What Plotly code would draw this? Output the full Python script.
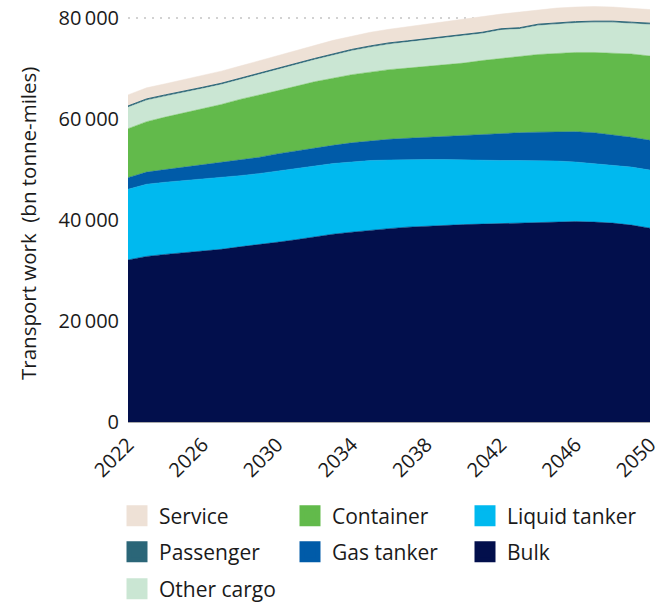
import plotly.graph_objects as go

years = list(range(2022, 2051))

bulk = [32100, 32800, 33200, 33500, 33800, 34200, 34700, 35100, 35600, 36100,
        36700, 37200, 37600, 38000, 38300, 38600, 38800, 38900, 39100, 39200,
        39300, 39500, 39600, 39700, 39700, 39600, 39400, 39000, 38400]
liquid_tanker = [14000, 14300, 14300, 14300, 14300, 14200, 14100, 14100, 14100, 14200,
                 14100, 14000, 13900, 13800, 13600, 13400, 13200, 13100, 12800, 12700,
                 12500, 12300, 12200, 12000, 11800, 11600, 11500, 11500, 11500]
gas_tanker = [2300, 2400, 2500, 2700, 2900, 3000, 3200, 3200, 3400, 3400,
              3500, 3600, 3800, 3900, 4100, 4200, 4400, 4600, 4800, 5000,
              5300, 5500, 5600, 5800, 6000, 6100, 6000, 5900, 5900]
container = [9700, 10000, 10400, 10700, 11000, 11500, 11900, 12300, 12500, 12800,
             13100, 13300, 13500, 13600, 13800, 13900, 14000, 14100, 14400, 14700,
             14900, 15000, 15400, 15500, 15700, 15900, 16200, 16500, 16700]
other_cargo = [4250, 4250, 4150, 4050, 4050, 3950, 3950, 4050, 4150, 4250,
               4350, 4550, 4750, 4950, 5050, 5150, 5250, 5350, 5350, 5350,
               5650, 5550, 5750, 5850, 5850, 5950, 6050, 6050, 6250]
passenger = [250, 250, 250, 250, 250, 250, 250, 250, 250, 250,
             250, 250, 250, 250, 250, 250, 250, 250, 250, 250,
             250, 250, 250, 250, 250, 250, 250, 250, 250]
service = [2200, 2200, 2200, 2300, 2300, 2400, 2400, 2500, 2600, 2600,
           2600, 2700, 2600, 2700, 2700, 2800, 2900, 3000, 3100, 3200,
           2900, 3100, 2800, 2900, 2900, 2900, 2800, 2800, 2700]

# stacking order bottom -> top
series = [
    ("Bulk", bulk, "#020F4C"),
    ("Liquid tanker", liquid_tanker, "#00B9EF"),
    ("Gas tanker", gas_tanker, "#005BA8"),
    ("Container", container, "#62BA4B"),
    ("Other cargo", other_cargo, "#CAE6D3"),
    ("Passenger", passenger, "#2B6678"),
    ("Service", service, "#EEE1D6"),
]
# legend grid: (name, column, row)
legend_cells = [
    ("Service", 0, 0), ("Container", 1, 0), ("Liquid tanker", 2, 0),
    ("Passenger", 0, 1), ("Gas tanker", 1, 1), ("Bulk", 2, 1),
    ("Other cargo", 0, 2),
]

x_ticks = [2022, 2026, 2030, 2034, 2038, 2042, 2046, 2050]
y_ticks = [0, 20000, 40000, 60000, 80000]
y_labels = ["0", "20\u2009000", "40\u2009000", "60\u2009000", "80\u2009000"]

font = "'Open Sans', Lato, sans-serif"

W, H = 666, 605
L, R, T, B = 128, 16, 3, 183
pw, ph = W - L - R, H - T - B


def px_x(p):
    return (p - L) / pw


def px_y(p):
    return (H - B - p) / ph


fig = go.Figure()
for name, vals, col in series:
    fig.add_trace(go.Scatter(
        x=years, y=vals, name=name, stackgroup="one", mode="lines",
        line=dict(width=1 if name == "Passenger" else 0.5, color=col),
        fillcolor=col, showlegend=False, hoverinfo="x+y+name",
    ))

# one tiny legend per entry so the grid can be placed exactly
colors = {n: c for n, _, c in series}
col_px = [115, 288, 463]
row_px = [516, 552, 589]
legends = {}
for i, (name, c, r) in enumerate(legend_cells):
    lid = "legend" if i == 0 else f"legend{i + 1}"
    fig.add_trace(go.Scatter(
        x=[None], y=[None], name=name, mode="markers",
        marker=dict(symbol="square", size=16, color=colors[name],
                    line=dict(width=5, color=colors[name])),
        legend=lid, showlegend=True,
    ))
    legends[lid] = dict(
        orientation="h", x=px_x(col_px[c]), y=px_y(row_px[r]),
        xanchor="left", yanchor="middle", itemwidth=34,
        font=dict(size=21), bgcolor="rgba(0,0,0,0)",
    )

fig.update_layout(
    width=W, height=H,
    margin=dict(l=L, r=R, t=T, b=B, autoexpand=False),
    plot_bgcolor="white", paper_bgcolor="white",
    font=dict(family=font, size=20, color="#1a1a1a"),
    showlegend=True,
    xaxis=dict(
        range=[2022, 2050], tickvals=x_ticks, tickangle=-45,
        showgrid=False, showline=True, linecolor="#aaaaaa", linewidth=1,
        ticks="", zeroline=False, automargin=False, ticklabelstandoff=2,
    ),
    yaxis=dict(
        range=[0, 83000], tickvals=y_ticks, ticktext=y_labels,
        showgrid=True, gridcolor="#d2d2d2", griddash="2px,6px", gridwidth=1.6,
        zeroline=False, showline=False, ticks="", layer="above traces",
        automargin=False, ticklabelstandoff=8,
    ),
    annotations=[dict(
        text="Transport work  (bn tonne-miles)", textangle=-90,
        xref="paper", yref="paper", x=px_x(28), y=px_y(224),
        xanchor="center", yanchor="middle", showarrow=False,
        font=dict(size=20.5),
    )],
)
fig.update_layout(**legends)

# the page body has a default 8px margin; drop it so the figure sits at 0,0
fig.write_html("out.html", config={"displayModeBar": False},
               post_script="document.body.style.margin='0';")
